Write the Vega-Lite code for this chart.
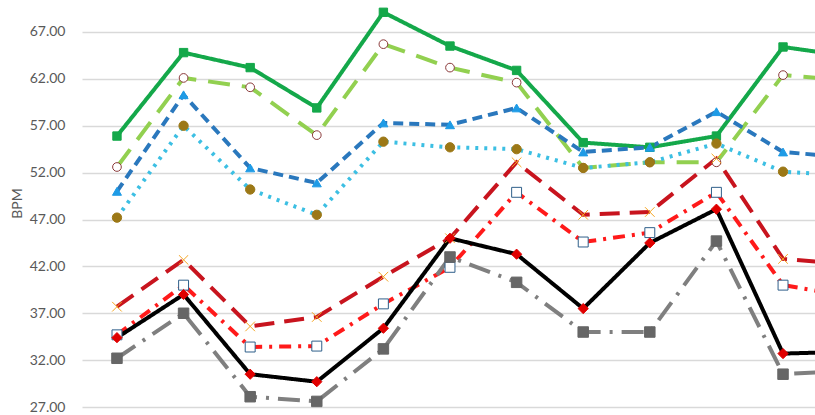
{
  "$schema": "https://vega.github.io/schema/vega-lite/v6.json",
  "width": 733,
  "height": 415,
  "autosize": "none",
  "padding": {"left": 82, "top": 0, "right": 0, "bottom": 0},
  "background": "white",
  "config": {"view": {"stroke": null}},
  "data": {"values": [
    {"s":"A","i":0,"v":55.9},{"s":"A","i":1,"v":64.8},{"s":"A","i":2,"v":63.2},{"s":"A","i":3,"v":58.9},{"s":"A","i":4,"v":69.1},{"s":"A","i":5,"v":65.5},{"s":"A","i":6,"v":62.9},{"s":"A","i":7,"v":55.2},{"s":"A","i":8,"v":54.7},{"s":"A","i":9,"v":55.9},{"s":"A","i":10,"v":65.4},{"s":"A","i":11,"v":64.4},
    {"s":"B","i":0,"v":52.6},{"s":"B","i":1,"v":62.1},{"s":"B","i":2,"v":61.1},{"s":"B","i":3,"v":56.0},{"s":"B","i":4,"v":65.7},{"s":"B","i":5,"v":63.2},{"s":"B","i":6,"v":61.6},{"s":"B","i":7,"v":52.5},{"s":"B","i":8,"v":53.1},{"s":"B","i":9,"v":53.1},{"s":"B","i":10,"v":62.4},{"s":"B","i":11,"v":61.8},
    {"s":"C","i":0,"v":50.0},{"s":"C","i":1,"v":60.3},{"s":"C","i":2,"v":52.5},{"s":"C","i":3,"v":50.9},{"s":"C","i":4,"v":57.3},{"s":"C","i":5,"v":57.1},{"s":"C","i":6,"v":58.9},{"s":"C","i":7,"v":54.2},{"s":"C","i":8,"v":54.7},{"s":"C","i":9,"v":58.5},{"s":"C","i":10,"v":54.2},{"s":"C","i":11,"v":53.6},
    {"s":"D","i":0,"v":47.2},{"s":"D","i":1,"v":57.0},{"s":"D","i":2,"v":50.2},{"s":"D","i":3,"v":47.5},{"s":"D","i":4,"v":55.3},{"s":"D","i":5,"v":54.7},{"s":"D","i":6,"v":54.5},{"s":"D","i":7,"v":52.5},{"s":"D","i":8,"v":53.1},{"s":"D","i":9,"v":55.1},{"s":"D","i":10,"v":52.1},{"s":"D","i":11,"v":51.7},
    {"s":"E","i":0,"v":37.7},{"s":"E","i":1,"v":42.7},{"s":"E","i":2,"v":35.6},{"s":"E","i":3,"v":36.6},{"s":"E","i":4,"v":40.9},{"s":"E","i":5,"v":45.0},{"s":"E","i":6,"v":53.1},{"s":"E","i":7,"v":47.5},{"s":"E","i":8,"v":47.8},{"s":"E","i":9,"v":53.5},{"s":"E","i":10,"v":42.8},{"s":"E","i":11,"v":42.2},
    {"s":"F","i":0,"v":34.7},{"s":"F","i":1,"v":40.0},{"s":"F","i":2,"v":33.4},{"s":"F","i":3,"v":33.5},{"s":"F","i":4,"v":38.0},{"s":"F","i":5,"v":41.9},{"s":"F","i":6,"v":49.9},{"s":"F","i":7,"v":44.6},{"s":"F","i":8,"v":45.6},{"s":"F","i":9,"v":49.9},{"s":"F","i":10,"v":40.0},{"s":"F","i":11,"v":38.8},
    {"s":"G","i":0,"v":34.4},{"s":"G","i":1,"v":39.0},{"s":"G","i":2,"v":30.5},{"s":"G","i":3,"v":29.7},{"s":"G","i":4,"v":35.4},{"s":"G","i":5,"v":45.0},{"s":"G","i":6,"v":43.3},{"s":"G","i":7,"v":37.5},{"s":"G","i":8,"v":44.5},{"s":"G","i":9,"v":48.1},{"s":"G","i":10,"v":32.7},{"s":"G","i":11,"v":32.9},
    {"s":"H","i":0,"v":32.2},{"s":"H","i":1,"v":37.0},{"s":"H","i":2,"v":28.1},{"s":"H","i":3,"v":27.6},{"s":"H","i":4,"v":33.2},{"s":"H","i":5,"v":43.0},{"s":"H","i":6,"v":40.3},{"s":"H","i":7,"v":35.0},{"s":"H","i":8,"v":35.0},{"s":"H","i":9,"v":44.7},{"s":"H","i":10,"v":30.5},{"s":"H","i":11,"v":30.9}
  ]},
  "encoding": {
    "x": {"field": "i", "type": "quantitative", "scale": {"domain": [-0.525, 10.48], "nice": false, "zero": false}, "axis": null},
    "y": {"field": "v", "type": "quantitative",
      "scale": {"domain": [26.15, 70.41], "nice": false, "zero": false},
      "axis": {"values": [27, 32, 37, 42, 47, 52, 57, 62, 67], "format": ".2f", "domain": false, "ticks": false,
        "labelPadding": 17, "labelFontSize": 14, "labelFont": "Lato", "labelColor": "#595959",
        "gridColor": "#d9d9d9", "gridWidth": 1.5,
        "title": "BPM", "titleFont": "Lato", "titleFontSize": 14, "titleFontWeight": "normal", "titleColor": "#595959",
        "titleAngle": 270, "titleX": -61, "titleY": 203, "titleAlign": "center", "titleBaseline": "alphabetic"}}
  },
  "layer": [
    {
      "mark": {"type": "line", "clip": true, "strokeWidth": 4},
      "encoding": {
        "color": {"field": "s", "type": "nominal", "legend": null,
          "scale": {"domain": ["H","G","F","E","D","C","B","A"],
            "range": ["#7f7f7f","#000000","#ff1a1a","#c8141e","#3cbfe3","#2a78bd","#92d050","#14a84a"]}},
        "strokeDash": {"field": "s", "type": "nominal", "legend": null,
          "scale": {"domain": ["H","G","F","E","D","C","B","A"],
            "range": [[22,9,3,9],[1,0],[12,7,3,7],[20,10],[3,6],[10,6],[22,12],[1,0]]}},
        "order": {"field": "s", "sort": "descending"}
      }
    },
    {
      "mark": {"type": "point", "clip": true, "filled": false, "opacity": 1},
      "encoding": {
        "shape": {"field": "s", "type": "nominal", "legend": null,
          "scale": {"domain": ["H","G","F","E","D","C","B","A"],
            "range": ["square","diamond","square","M-1,-1L1,1M1,-1L-1,1","circle","triangle-up","circle","square"]}},
        "fill": {"field": "s", "type": "nominal", "legend": null,
          "scale": {"domain": ["H","G","F","E","D","C","B","A"],
            "range": ["#666666","#e00000","#ffffff","#f5a623","#9c7816","#1e9be6","#ffffff","#14a84a"]}},
        "stroke": {"field": "s", "type": "nominal", "legend": null,
          "scale": {"domain": ["H","G","F","E","D","C","B","A"],
            "range": ["#666666","#e00000","#2f5f8a","#f5a623","#9c7816","#1e9be6","#8b3a3a","#14a84a"]}},
        "size": {"field": "s", "type": "ordinal", "legend": null,
          "scale": {"domain": ["H","G","F","E","D","C","B","A"],
            "range": [110, 70, 90, 70, 110, 110, 90, 100]}},
        "strokeWidth": {"field": "s", "type": "ordinal", "legend": null,
          "scale": {"domain": ["H","G","F","E","D","C","B","A"],
            "range": [1, 1, 1.5, 2, 1, 1, 1.5, 1]}}
      }
    }
  ]
}
